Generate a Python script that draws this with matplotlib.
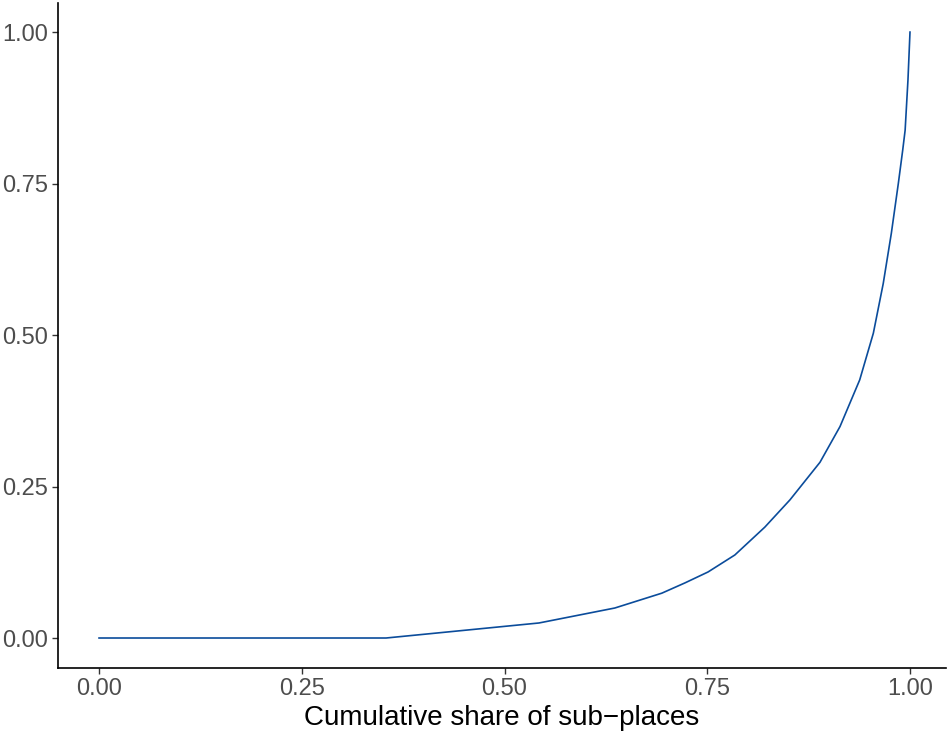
import matplotlib
matplotlib.use("Agg")
import matplotlib.pyplot as plt

# cumulative share of sub-places vs cumulative share (Lorenz-type curve)
share_places = [0.0, 0.354, 0.5425, 0.636, 0.694, 0.7226, 0.751, 0.784, 0.821,
                0.852, 0.889, 0.9137, 0.938, 0.9548, 0.967, 0.977, 0.9856,
                0.991, 0.994, 0.9975, 1.0]
share_value = [0.0, 0.0, 0.0248, 0.0495, 0.074, 0.091, 0.109, 0.137, 0.183,
               0.228, 0.290, 0.349, 0.426, 0.503, 0.585, 0.668, 0.75,
               0.805, 0.838, 0.921, 1.0]
ticks = [0.0, 0.25, 0.5, 0.75, 1.0]
tick_labels = ["0.00", "0.25", "0.50", "0.75", "1.00"]

plt.rcParams['font.family'] = ['Liberation Sans', 'DejaVu Sans']

fig = plt.figure(figsize=(9.49, 7.31), dpi=100)
ax = fig.add_axes([58/949, 63/731, (946-58)/949, (668-3)/731])

ax.plot(share_places, share_value, color="#0B4C9B", lw=1.2)

ax.set_xlim(-0.0506, 1.0444)
ax.set_ylim(-0.0495, 1.048)
ax.set_xticks(ticks)
ax.set_xticklabels(tick_labels)
ax.set_yticks(ticks)
ax.set_yticklabels(tick_labels)
ax.tick_params(length=4, width=1, color="#333333", labelcolor="#4D4D4D",
               labelsize=17, pad=3)
for s in ["top", "right"]:
    ax.spines[s].set_visible(False)
for s in ["left", "bottom"]:
    ax.spines[s].set_linewidth(1.2)
    ax.spines[s].set_color("black")

ax.set_xlabel("Cumulative share of sub\u2212places", fontsize=20, color="black", labelpad=4)

fig.savefig("out.png", dpi=100)
